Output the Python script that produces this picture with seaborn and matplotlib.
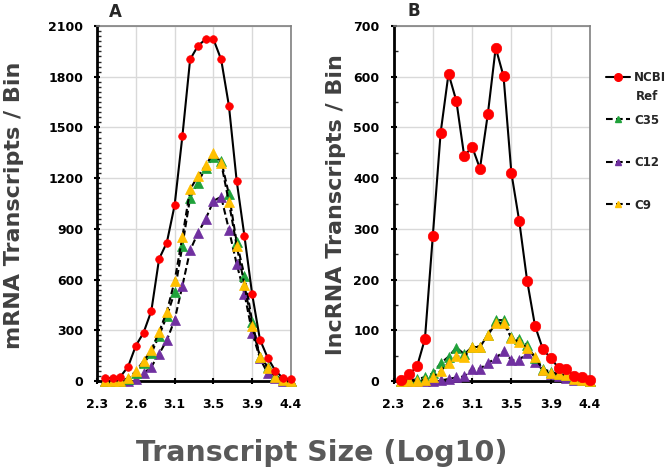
import matplotlib
matplotlib.use("Agg")
import matplotlib.pyplot as plt
from matplotlib.lines import Line2D
from matplotlib.ticker import MultipleLocator
import seaborn as sns
import pandas as pd

# ---------------- data ----------------
# bin index along the (category) x axis; axis spans 0..25
bins = [1, 2, 3, 4, 5, 6, 7, 8, 9, 10, 11, 12, 13, 14, 15, 16, 17, 18, 19, 20, 21, 22, 23, 24, 25]
tick_pos = [0, 5, 10, 15, 20, 25]
tick_labels = ["2.3", "2.6", "3.1", "3.5", "3.9", "4.4"]

series_names = ["NCBI Ref", "C35", "C12", "C9"]

# Panel A: mRNA
mrna_ncbi = [16, 19, 25, 84, 208, 286, 414, 722, 819, 1039, 1447, 1902, 1982, 2022, 2022,
             1902, 1628, 1184, 857, 512, 245, 137, 59, 16, 10]
mrna_c35 = [0, 0, 0, 10, 45, 104, 163, 268, 384, 524, 800, 1084, 1173, 1261, 1324,
            1304, 1104, 820, 624, 349, 143, 85, 30, 8, 0]
mrna_c12 = [0, 0, 0, 0, 12, 45, 84, 160, 241, 361, 562, 773, 875, 957, 1065,
            1090, 895, 692, 516, 286, 134, 45, 15, 0, 0]
mrna_c9 = [0, 0, 0, 17, 57, 119, 182, 290, 410, 591, 852, 1133, 1212, 1275, 1349,
           1290, 1057, 800, 569, 324, 143, 75, 25, 6, 0]
mrna_yticks = [0, 300, 600, 900, 1200, 1500, 1800, 2100]

# Panel B: lncRNA
lnc_ncbi = [2, 13, 29, 83, 286, 490, 606, 552, 443, 462, 419, 526, 657, 601, 410,
            315, 198, 109, 63, 45, 26, 24, 9, 8, 1]
lnc_c35 = [0, 2, 3, 8, 15, 35, 48, 66, 53, 67, 67, 91, 120, 120, 86,
           83, 71, 45, 24, 18, 14, 11, 5, 2, 0]
lnc_c12 = [0, 0, 0, 0, 0, 1, 4, 7, 9, 24, 24, 35, 45, 59, 41,
           41, 56, 37, 22, 14, 10, 6, 2, 1, 0]
lnc_c9 = [0, 0, 0, 2, 7, 20, 36, 49, 47, 68, 68, 90, 114, 114, 85,
          77, 65, 48, 22, 16, 13, 11, 4, 2, 0]
lnc_yticks = [0, 100, 200, 300, 400, 500, 600, 700]

# ---------------- style ----------------
sns.set_theme(style="white")
plt.rcParams["font.family"] = ["DejaVu Sans"]
plt.rcParams["font.weight"] = "bold"

colors = {"NCBI Ref": "#ff0000", "C35": "#1fa23a", "C12": "#7030a0", "C9": "#ffc000"}
markers = {"NCBI Ref": "o", "C35": "^", "C12": "^", "C9": "^"}
dashed = (0, (3.2, 1.6))

fig = plt.figure(figsize=(6.72, 4.74), dpi=100)
axA = fig.add_axes([97 / 672, 1 - 381 / 474, 194 / 672, 355 / 474])
axB = fig.add_axes([393.5 / 672, 1 - 381 / 474, 196.5 / 672, 355 / 474])


def draw(ax, data, yticks, yminor, msize_circle, msize_tri):
    df = pd.DataFrame({"bin": bins * 4,
                       "value": sum(data, []),
                       "series": sum([[n] * len(bins) for n in series_names], [])})
    order = ["C12", "C35", "C9", "NCBI Ref"]
    for name in order:
        sub = df[df["series"] == name]
        is_ref = name == "NCBI Ref"
        sns.lineplot(data=sub, x="bin", y="value", ax=ax, color="black",
                     linewidth=1.5, linestyle="-" if is_ref else dashed,
                     marker=markers[name],
                     markersize=msize_circle if is_ref else msize_tri,
                     markerfacecolor=colors[name], markeredgecolor=colors[name],
                     markeredgewidth=0.5, clip_on=False, zorder=5 if is_ref else 4,
                     legend=False)
    ax.set_xlim(0, 25)
    ax.set_ylim(yticks[0], yticks[-1])
    ax.set_xticks(tick_pos)
    ax.set_xticklabels(tick_labels, fontweight="bold", fontsize=9)
    ax.set_yticks(yticks)
    ax.set_yticklabels([str(t) for t in yticks], fontweight="bold", fontsize=9)
    ax.yaxis.set_minor_locator(MultipleLocator(yminor))
    ax.grid(True, which="major", color="#d9d9d9", linewidth=1)
    ax.set_axisbelow(True)
    ax.set_xlabel("")
    ax.set_ylabel("")
    for s in ["left", "bottom"]:
        ax.spines[s].set_color("black")
        ax.spines[s].set_linewidth(2)
    for s in ["top", "right"]:
        ax.spines[s].set_color("#808080")
        ax.spines[s].set_linewidth(1.2)
    ax.tick_params(axis="both", which="major", colors="black",
                   length=4, width=1.5, direction="inout")
    ax.tick_params(axis="y", which="minor", length=3, width=1, direction="in", left=True)
    ax.tick_params(axis="x", pad=10, bottom=True)
    ax.tick_params(axis="y", pad=8, left=True)


draw(axA, [mrna_ncbi, mrna_c35, mrna_c12, mrna_c9], mrna_yticks, 30, 5.5, 7)
draw(axB, [lnc_ncbi, lnc_c35, lnc_c12, lnc_c9], lnc_yticks, 50, 7.5, 6.5)

# panel letters
fig.text(109 / 672, 1 - 12 / 474, "A", fontsize=12, fontweight="bold", va="center", ha="left")
fig.text(408 / 672, 1 - 11 / 474, "B", fontsize=12, fontweight="bold", va="center", ha="left")

# y labels
fig.text(14 / 672, 1 - 205 / 474, "mRNA Transcripts / Bin", rotation=90, fontsize=16,
         fontweight="bold", color="#404040", ha="center", va="center")
fig.text(336 / 672, 1 - 205 / 474, "lncRNA Transcripts / Bin", rotation=90, fontsize=16,
         fontweight="bold", color="#404040", ha="center", va="center")

# x label
fig.text(322 / 672, 1 - 453 / 474, "Transcript Size (Log10)", fontsize=20.5,
         fontweight="bold", color="#595959", ha="center", va="center")

# legend
handles = []
for name in series_names:
    is_ref = name == "NCBI Ref"
    handles.append(Line2D([0], [0], color="black", linewidth=1.5,
                          linestyle="-" if is_ref else dashed,
                          marker=markers[name], markersize=5.5 if is_ref else 5,
                          markerfacecolor=colors[name], markeredgecolor=colors[name]))
leg = fig.legend(handles, ["NCBI", "C35", "C12", "C9"], loc="upper left",
                 bbox_to_anchor=(606 / 672, 1 - 71 / 474), frameon=False,
                 borderpad=0, borderaxespad=0,
                 handlelength=2.0, handletextpad=0.4, labelspacing=2.5,
                 prop={"weight": "bold", "size": 8.5})
fig.text(636 / 672, 1 - 96 / 474, "Ref", fontsize=8.5, fontweight="bold",
         ha="left", va="center")

fig.savefig("out.png", dpi=100)
